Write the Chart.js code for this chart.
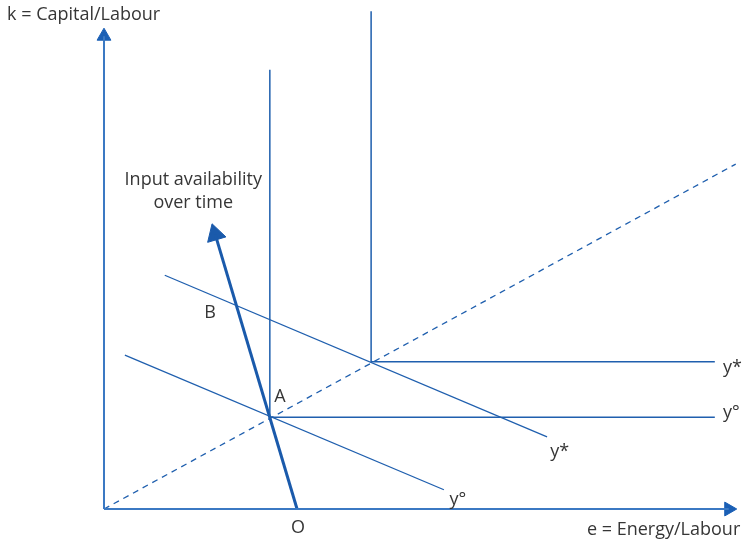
<!DOCTYPE html>
<html>
<head>
<meta charset="utf-8">
<script src="https://cdn.jsdelivr.net/npm/chart.js@4/dist/chart.umd.min.js"></script>
<style>
  html, body { margin: 0; padding: 0; background: #ffffff; }
  #wrap { width: 744px; height: 546px; position: relative; }
</style>
</head>
<body>
<div id="wrap"><canvas id="c"></canvas></div>
<script>
// ---- Data (in diagram units: e = Energy/Labour on x, k = Capital/Labour on y) ----
const xAxisLine = [{x: 0, y: 0}, {x: 9.87, y: 0}];
const yAxisLine = [{x: 0, y: 0}, {x: 0, y: 9.83}];
const expansionRay = [{x: 0, y: 0}, {x: 9.98, y: 7.17}];
const leontiefLow = [{x: 2.62, y: 9.13}, {x: 2.62, y: 1.91}, {x: 9.65, y: 1.91}];
const leontiefHigh = [{x: 4.22, y: 10.35}, {x: 4.22, y: 3.06}, {x: 9.65, y: 3.06}];
const substLow = [{x: 0.33, y: 3.20}, {x: 5.37, y: 0.40}];
const substHigh = [{x: 0.96, y: 4.86}, {x: 7.00, y: 1.50}];
const availabilityPath = [{x: 3.05, y: 0}, {x: 1.757, y: 5.71}];
const arrowHeads = [{x: 0, y: 9.83}, {x: 9.87, y: 0}, {x: 1.757, y: 5.71}];
const arrowRotations = [0, 90, -16.6];
const arrowSizes = [8, 8, 11];

const labelTexts = ["k = Capital/Labour", "e = Energy/Labour", "O", "A", "B",
                    "y*", "y°", "y*", "y°", "Input availability", "over time"];
const labelX = [-1.532, 7.63, 3.065, 2.78, 1.675, 9.78, 9.78, 7.20, 5.59, 1.41, 1.41];
const labelY = [10.27, -0.437, -0.395, 2.33, 4.075, 2.93, 2.00, 1.185, 0.187, 6.84, 6.36];
const labelAlign = ["left", "left", "center", "center", "center", "left", "left", "center", "center", "center", "center"];

const BLUE = "#1f5fae";
const AXIS = "#3b79c3";
const TEXT = "#363636";

const labelPlugin = {
  id: "diagramLabels",
  afterDatasetsDraw(chart) {
    const ctx = chart.ctx;
    const xs = chart.scales.x, ys = chart.scales.y;
    ctx.save();
    ctx.fillStyle = TEXT;
    ctx.font = '18px "Open Sans", sans-serif';
    ctx.textBaseline = "middle";
    labelTexts.forEach((t, i) => {
      ctx.textAlign = labelAlign[i];
      ctx.fillText(t, xs.getPixelForValue(labelX[i]), ys.getPixelForValue(labelY[i]));
    });
    ctx.restore();
  }
};

function lineDs(data, color, width, dash) {
  return {
    type: "line", data: data, borderColor: color, borderWidth: width,
    borderDash: dash || [], pointRadius: 0, fill: false, tension: 0, clip: false
  };
}

new Chart(document.getElementById("c"), {
  type: "scatter",
  data: {
    datasets: [
      lineDs(xAxisLine, AXIS, 2),
      lineDs(yAxisLine, AXIS, 2),
      lineDs(expansionRay, BLUE, 1.3, [6, 5]),
      lineDs(leontiefLow, BLUE, 1.5),
      lineDs(leontiefHigh, BLUE, 1.5),
      lineDs(substLow, BLUE, 1.3),
      lineDs(substHigh, BLUE, 1.3),
      lineDs(availabilityPath, "#1a5aab", 3),
      {
        type: "scatter", data: arrowHeads, pointStyle: "triangle",
        rotation: arrowRotations, radius: arrowSizes,
        backgroundColor: ["#1a5fb5", "#1a5fb5", "#1a5aab"],
        borderColor: ["#1a5fb5", "#1a5fb5", "#1a5aab"], borderWidth: 1, clip: false
      }
    ]
  },
  options: {
    responsive: true,
    maintainAspectRatio: false,
    animation: false,
    layout: { padding: 0, autoPadding: false },
    plugins: { legend: { display: false }, tooltip: { enabled: false } },
    events: [],
    scales: {
      x: { type: "linear", display: false, min: -1.643, max: 10.111 },
      y: { type: "linear", display: false, min: -0.769, max: 10.582 }
    }
  },
  plugins: [labelPlugin]
});
</script>
</body>
</html>
